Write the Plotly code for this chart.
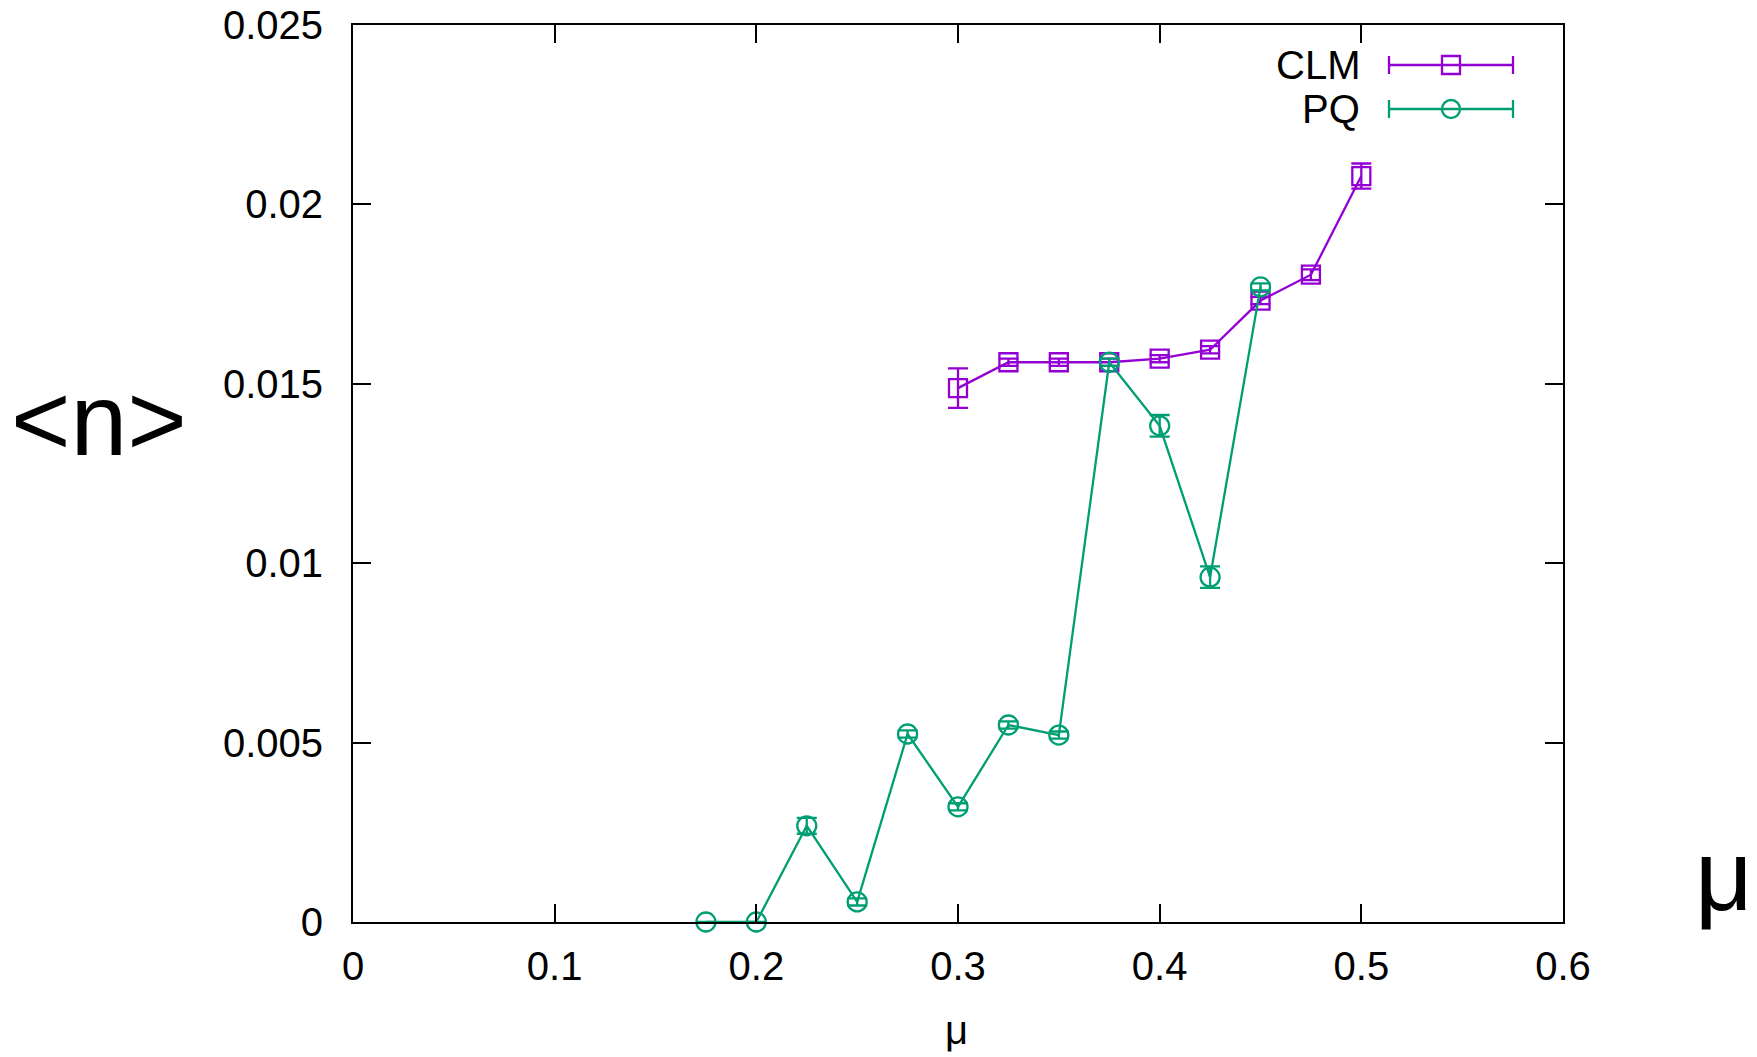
import plotly.graph_objects as go

# ---- data ----
clm_mu = [0.3, 0.325, 0.35, 0.375, 0.4, 0.425, 0.45, 0.475, 0.5]
clm_n = [0.01488, 0.0156, 0.0156, 0.0156, 0.0157, 0.01595, 0.01732, 0.01804, 0.02079]
clm_err = [0.00055, 0.0001, 0.0001, 0.0001, 0.0001, 0.0001, 0.0001, 0.00015, 0.00035]

pq_mu = [0.175, 0.2, 0.225, 0.25, 0.275, 0.3, 0.325, 0.35, 0.375, 0.4, 0.425, 0.45]
pq_n = [0.0, 0.0, 0.00268, 0.00056, 0.00524, 0.00321, 0.00549, 0.00521, 0.0156, 0.01383, 0.00961, 0.0177]
pq_err = [0.0, 0.0, 0.00022, 0.0001, 0.0001, 0.0001, 0.0001, 0.0001, 0.0001, 0.0003, 0.0003, 0.0001]

x_ticks = [0, 0.1, 0.2, 0.3, 0.4, 0.5, 0.6]
x_tick_text = ["0", "0.1", "0.2", "0.3", "0.4", "0.5", "0.6"]
y_ticks = [0, 0.005, 0.01, 0.015, 0.02, 0.025]
y_tick_text = ["0", "0.005", "0.01", "0.015", "0.02", "0.025"]

series_names = ["CLM", "PQ"]
PURPLE = "#9400d3"
GREEN = "#009e73"
FONT = "Liberation Sans, Arial, sans-serif"

W, H = 1757, 1057
L, R, T, B = 353, 1563, 25, 922


def px(x):
    return (x - L) / (R - L)


def py(y):
    return (B - y) / (B - T)


fig = go.Figure()
fig.add_trace(go.Scatter(
    x=clm_mu, y=clm_n, mode="lines+markers", name=series_names[0],
    line=dict(color=PURPLE, width=2.3),
    marker=dict(symbol="square-open", size=18, color=PURPLE, line=dict(width=2.3)),
    error_y=dict(type="data", array=clm_err, color=PURPLE, thickness=2.3, width=10),
    showlegend=False,
))
fig.add_trace(go.Scatter(
    x=pq_mu, y=pq_n, mode="lines+markers", name=series_names[1],
    line=dict(color=GREEN, width=2.3),
    marker=dict(symbol="circle-open", size=19, color=GREEN, line=dict(width=2.3)),
    error_y=dict(type="data", array=pq_err, color=GREEN, thickness=2.3, width=10),
    showlegend=False,
    cliponaxis=False,
))

shapes = []
annotations = []

# custom gnuplot-style legend
legend_rows = [(series_names[0], PURPLE, "square", 65), (series_names[1], GREEN, "circle", 109)]
x0, x1, xm = 1389, 1513, 1451
for name, col, sym, yc in legend_rows:
    annotations.append(dict(
        x=px(1362), y=py(yc), xref="paper", yref="paper", text=name, showarrow=False,
        xanchor="right", yanchor="middle", font=dict(family=FONT, size=40, color="black"),
    ))
    shapes.append(dict(type="line", xref="paper", yref="paper", x0=px(x0), x1=px(x1),
                       y0=py(yc), y1=py(yc), line=dict(color=col, width=2.3)))
    for xc in (x0, x1):
        shapes.append(dict(type="line", xref="paper", yref="paper", x0=px(xc), x1=px(xc),
                           y0=py(yc - 9), y1=py(yc + 9), line=dict(color=col, width=2.3)))
    r = 9
    shapes.append(dict(type="rect" if sym == "square" else "circle", xref="paper", yref="paper",
                       x0=px(xm - r), x1=px(xm + r), y0=py(yc - r), y1=py(yc + r),
                       line=dict(color=col, width=2.3), fillcolor="rgba(0,0,0,0)"))

# axis titles
annotations.append(dict(x=px(99), y=py(420), xref="paper", yref="paper", text="&lt;n&gt;",
                        showarrow=False, xanchor="center", yanchor="middle",
                        font=dict(family=FONT, size=102, color="black")))
annotations.append(dict(x=px(1724), y=py(875), xref="paper", yref="paper", text="μ",
                        showarrow=False, xanchor="center", yanchor="middle",
                        font=dict(family=FONT, size=100, color="black")))
annotations.append(dict(x=px(956), y=py(1030), xref="paper", yref="paper", text="μ",
                        showarrow=False, xanchor="center", yanchor="middle",
                        font=dict(family=FONT, size=40, color="black")))

axis_common = dict(
    showgrid=False, zeroline=False, showline=True, linecolor="black", linewidth=2,
    mirror="allticks", ticks="inside", ticklen=18, tickwidth=1.5, tickcolor="black",
    tickfont=dict(family=FONT, size=40, color="black"),
)

fig.update_layout(
    width=W, height=H,
    margin=dict(l=L, r=W - R, t=T, b=H - B, autoexpand=False),
    paper_bgcolor="white", plot_bgcolor="white",
    xaxis=dict(range=[0, 0.6], tickvals=x_ticks, ticktext=x_tick_text, ticklabelstandoff=8, **axis_common),
    yaxis=dict(range=[0, 0.025], tickvals=y_ticks, ticktext=y_tick_text, ticklabelstandoff=20, **axis_common),
    shapes=shapes, annotations=annotations,
)

fig.write_html("out.html")
